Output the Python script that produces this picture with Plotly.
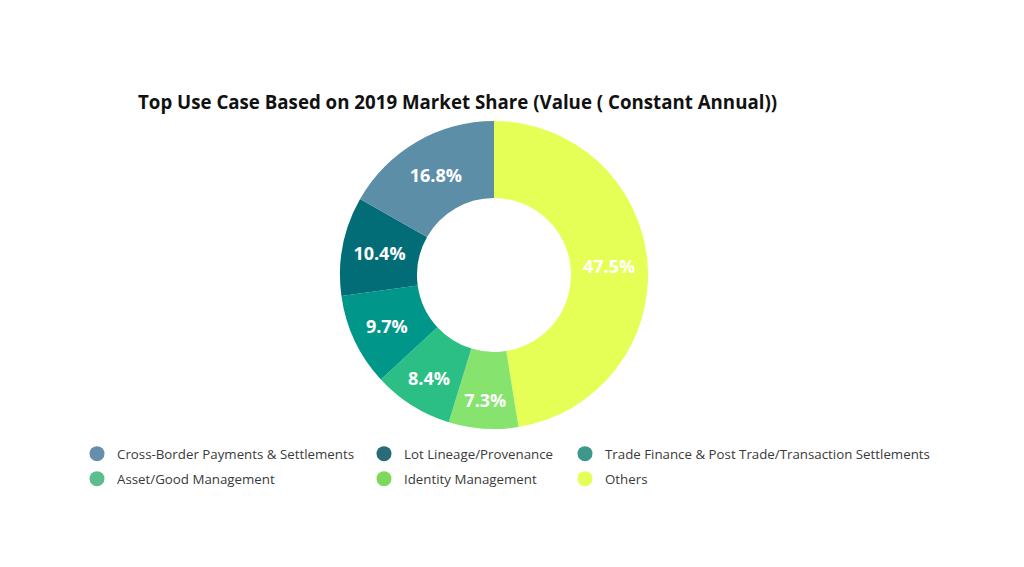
import plotly.graph_objects as go

title = "Top Use Case Based on 2019 Market Share (Value ( Constant Annual))"
labels = [
    "Cross-Border Payments & Settlements",
    "Lot Lineage/Provenance",
    "Trade Finance & Post Trade/Transaction Settlements",
    "Asset/Good Management",
    "Identity Management",
    "Others",
]
shares = [16.8, 10.4, 9.7, 8.4, 7.3, 47.5]
slice_colors = ["#5d8ea8", "#026d77", "#00978a", "#2bbf86", "#86e36d", "#e6ff57"]
legend_colors = ["#668fab", "#2b6a79", "#3d978c", "#5bbe8c", "#7ed95a", "#e6ff57"]

W, H = 1024, 567
OFF = 8  # page body margin in the browser
cx, cy, R = 494 - OFF, 275 - OFF, 154

fig = go.Figure()
# drawn clockwise from 12 o'clock, so the list is reversed (Others first)
fig.add_trace(go.Pie(
    labels=labels[::-1],
    values=shares[::-1],
    sort=False,
    direction="clockwise",
    rotation=0,
    hole=0.5,
    marker=dict(colors=slice_colors[::-1], line=dict(width=0)),
    texttemplate="%{value:.1f}%",
    textposition="inside",
    insidetextorientation="horizontal",
    textfont=dict(family="Open Sans", size=18, color="white", weight="bold"),
    showlegend=False,
    hoverinfo="label+value",
    domain=dict(x=[(cx - R) / W, (cx + R) / W], y=[1 - (cy + R) / H, 1 - (cy - R) / H]),
))

# legend entries (circle markers), one legend per entry for exact placement
col_x = [100 - OFF - 3, 387 - OFF - 3, 585 - OFF]
row_y = [454 - OFF, 479 - OFF]
layout_legends = {}
for i, (lab, col) in enumerate(zip(labels, legend_colors)):
    key = "legend" if i == 0 else f"legend{i+1}"
    fig.add_trace(go.Scatter(
        x=[None], y=[None], mode="markers", name=lab,
        marker=dict(symbol="circle", size=15, color=col),
        legend=key, showlegend=True,
    ))
    r = 0 if i < 3 else 1
    c = i % 3
    layout_legends[key] = dict(
        x=(col_x[c] - 20) / W, xanchor="left",
        y=1 - row_y[r] / H, yanchor="middle",
        bgcolor="rgba(0,0,0,0)",
        font=dict(family="Open Sans", size=13.3, color="#3a3a3a"),
    )

fig.update_layout(
    width=W, height=H,
    margin=dict(l=0, r=0, t=0, b=0),
    paper_bgcolor="white", plot_bgcolor="white",
    title=dict(
        text="<b>" + title + "</b>",
        x=(138 - OFF) / W, xanchor="left", xref="paper",
        y=1 - (102 - OFF) / H, yanchor="middle", yref="container",
        font=dict(family="Open Sans", size=18.7, color="#111111"),
    ),
    xaxis=dict(visible=False),
    yaxis=dict(visible=False),
    **layout_legends,
)

fig.write_html("out.html")
